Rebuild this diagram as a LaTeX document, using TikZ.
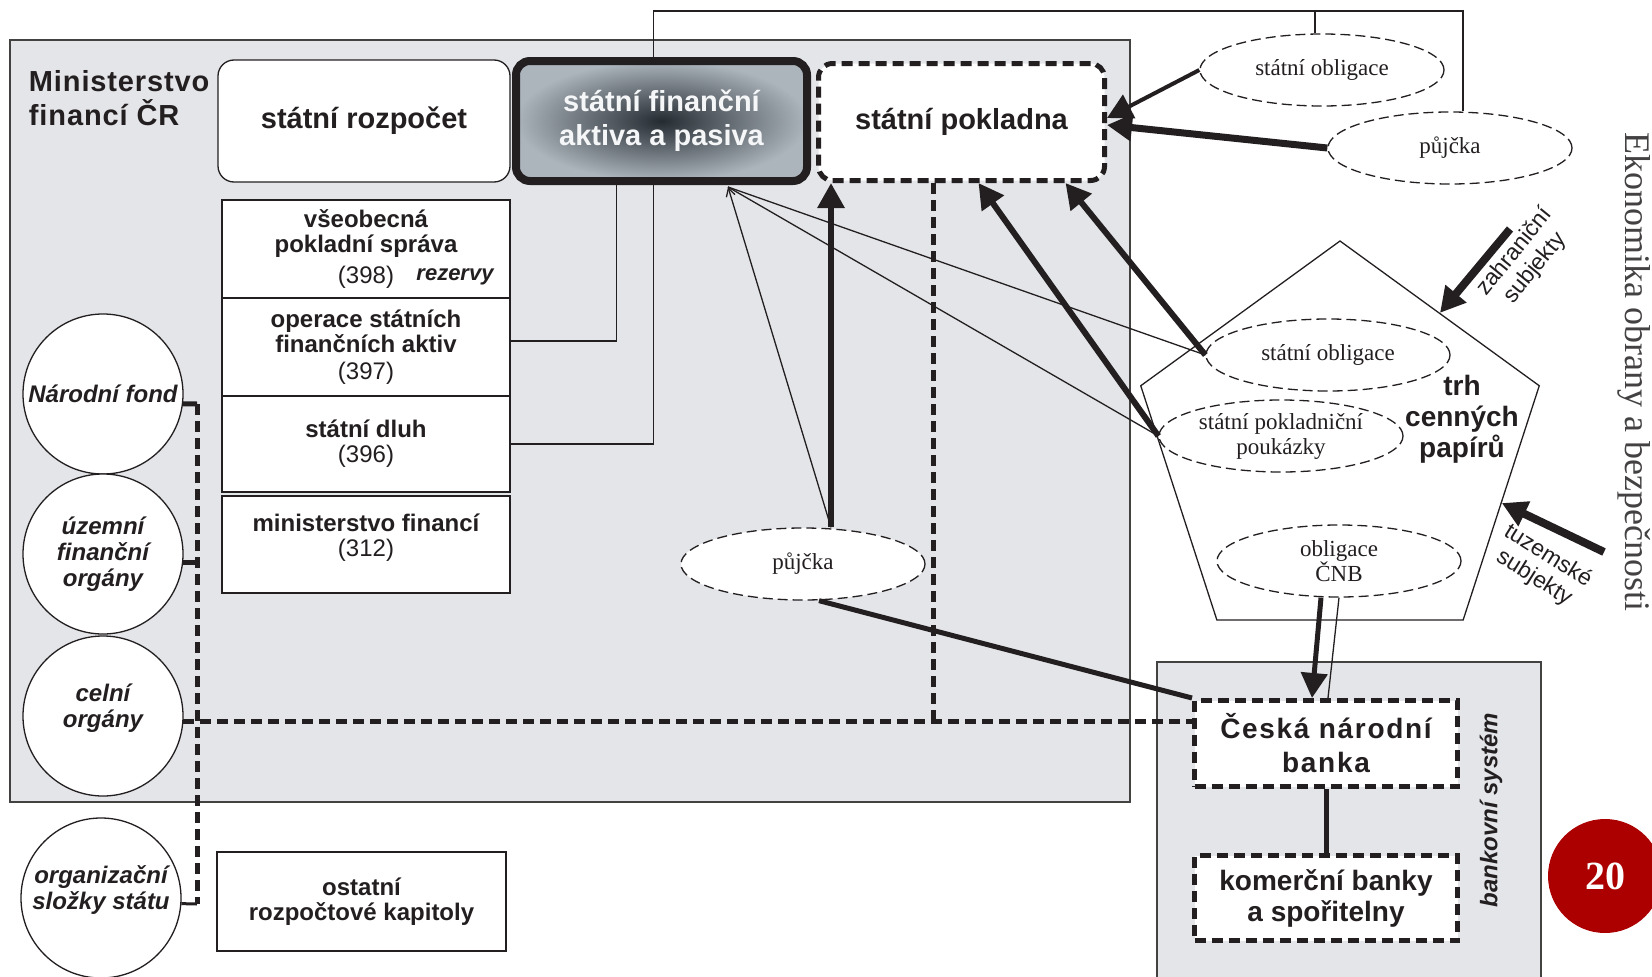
\documentclass[tikz,border=0pt]{standalone}
\usepackage{fontspec}
\setmainfont{Liberation Serif}
\setsansfont{Liberation Sans}
\newfontfamily\trackedsans[LetterSpace=3]{Liberation Sans}
\newfontfamily\widesans[LetterSpace=6]{Liberation Sans}
\usetikzlibrary{arrows.meta,shapes.geometric}
\definecolor{ink}{RGB}{35,31,32}
\definecolor{panel}{RGB}{228,229,233}
\definecolor{slate}{RGB}{36,43,49}
\definecolor{slatelight}{RGB}{172,180,188}
\definecolor{pagered}{RGB}{172,0,0}
\newcommand\sizeL{\fontsize{29}{33}\selectfont}
\newcommand\sizeM{\fontsize{24}{25}\selectfont}
\newcommand\sizeS{\fontsize{23}{25}\selectfont}

\begin{document}
\begin{tikzpicture} [
    x=1pt, y=-1pt, line width=1.3pt, color=ink,
    every node/.append style={align=center},
    panel background/.style={fill=panel, draw=ink!85, line width=1.5pt},
    round box/.style={draw, fill=white, rounded corners=16pt, inner sep=0pt,
      minimum width=292pt, minimum height=122pt, font=\sffamily\bfseries\sizeL},
    plain box/.style={draw, fill=white, inner sep=0pt, minimum width=288pt,
      font=\sffamily\bfseries\sizeM},
    dash box/.style={draw, fill=white, line width=5pt, dash pattern=on 11pt off 6pt,
      inner sep=0pt, minimum width=263pt},
    agency/.style={circle, draw, fill=white, minimum size=160pt, inner sep=0pt,
      font=\sffamily\bfseries\itshape\fontsize{24}{26}\selectfont},
    bubble/.style={ellipse, draw, fill=white, dash pattern=on 10pt off 5pt,
      minimum width=244pt, minimum height=72pt, inner sep=0pt, font=\rmfamily\sizeS},
    flow/.style={line width=6pt, -{Triangle[length=25pt,width=26pt]}},
    thin link/.style={line width=1.3pt},
    tie/.style={line width=5pt},
    bus/.style={line width=5pt, dash pattern=on 11pt off 6pt}
  ]

  \useasboundingbox (0,0) rectangle (1652,977);
  \clip (0,0) rectangle (1652,977);

  \path [panel background] (10,40) rectangle (1130,802);
  \path [panel background] (1157,662) rectangle (1541,990);

  \node [anchor=west, align=left, font=\trackedsans\bfseries\fontsize{29}{34}\selectfont]
    (ministry) at (25,98) {Ministerstvo\\financí ČR};
  \node [round box] (budget) at (364,121) {státní rozpočet};
  \node [draw=ink, line width=8pt, rounded corners=14pt, inner color=slate, outer color=slatelight,
    minimum width=291pt, minimum height=120pt, inner sep=0pt, text=white!88!slatelight,
    font=\sffamily\bfseries\fontsize{29}{34}\selectfont]
    (assets) at (661.5,121) {státní finanční\\aktiva a pasiva};
  \node [dash box, rounded corners=14pt, minimum width=286pt, minimum height=117pt,
    font=\sffamily\bfseries\sizeL] (treasury) at (961.5,122) {státní pokladna};

  % kapitoly
  \node [plain box, minimum height=98pt] (general) at (366,249)
    {všeobecná\\pokladní správa\\[6pt]{\mdseries(398)}};
  \node [font=\sffamily\bfseries\itshape\fontsize{22}{24}\selectfont] (reserves) at (455,277) {rezervy};
  \node [plain box, minimum height=98pt] (ops) at (366,347)
    {operace státních\\finančních aktiv\\[2pt]{\mdseries(397)}};
  \node [plain box, minimum height=96pt] (debt) at (366,444) {státní dluh\\{\mdseries(396)}};
  \node [plain box, minimum height=97pt] (minfin) at (366,544.5)
    {ministerstvo financí\\{\mdseries(312)}\\[-6pt]};
  \node [plain box, minimum width=289pt, minimum height=99pt] (others) at (361.5,901.5)
    {ostatní\\rozpočtové kapitoly};

  \node [agency] (fund) at (103,394) {Národní fond};
  \node [agency] (regional) at (103,554) {územní\\finanční\\orgány};
  \node [agency] (customs) at (103,716) {celní\\orgány\\[-6pt]};
  \node [agency] (units) at (101,898) {organizační\\složky státu\\[-6pt]};

  \node [dash box, minimum height=86pt, font=\widesans\bfseries\fontsize{28}{34}\selectfont]
    (cnb) at (1326,743.5) {Česká národní\\banka};
  \node [dash box, minimum height=85pt, font=\sffamily\bfseries\fontsize{28}{31}\selectfont]
    (banks) at (1326,898) {komerční banky\\a spořitelny};
  \node [rotate=90, font=\sffamily\bfseries\itshape\sizeM] (banking) at (1491,810) {bankovní systém};

  \node [bubble] (bondtop) at (1322,70) {státní obligace};
  \node [bubble] (loantop) at (1450,148) {půjčka};
  \node [bubble] (loan) at (803,564) {půjčka};

  \node [regular polygon, regular polygon sides=5, draw, minimum size=419pt, inner sep=0pt]
    (market) at (1340,450.5) {};
  \node [bubble, fill=none] (bond) at (1328,355) {státní obligace};
  \node [bubble, fill=none] (bills) at (1281,436) {státní pokladniční\\poukázky};
  \node [bubble, fill=none] (cnbbond) at (1339,561) {obligace\\ČNB};
  \node [font=\sffamily\bfseries\fontsize{28}{31}\selectfont] (markettitle) at (1462,419)
    {trh\\cenných\\papírů};

  \node [rotate=51, font=\sffamily\fontsize{23}{26}\selectfont] (foreign) at (1525,260)
    {zahraniční\\subjekty};
  \node [rotate=-32, font=\sffamily\fontsize{23}{26}\selectfont] (domestic) at (1541,567)
    {tuzemské\\subjekty};

  \node [circle, fill=pagered, minimum size=114pt, inner sep=0pt, text=white,
    font=\rmfamily\bfseries\fontsize{40}{40}\selectfont] (page) at (1605,876) {20};
  \node [rotate=-90, text=ink!85, font=\rmfamily\fontsize{36}{40}\selectfont]
    (series) at (1634,372) {Ekonomika obrany a bezpečnosti};

  \coordinate (apex) at (728,187);
  \coordinate (loan up) at ([xshift=28pt]loan.north);
  \coordinate (drop) at ([xshift=-28pt]treasury.south);
  \coordinate (bus top) at (197,404);
  \coordinate (bus bottom) at (197,904);
  \coordinate (foreign tail) at (1510,229);
  \coordinate (domestic tail) at (1604,552);

  \draw [thin link] ([yshift=6pt]ops.east) -| ([xshift=-45pt]assets.south);
  \draw [thin link] (debt.east) -| ([xshift=-8pt]assets.south);
  \draw [thin link] ([xshift=-8pt]assets.north) -- ++(0,-46) -| ([xshift=13pt]loantop.north);
  \draw [thin link] ([xshift=-7pt]bondtop.north) -- ++(0,-22);
  \draw [thin link, {Straight Barb[length=8pt,width=9pt]}-] (apex) -- (loan up);
  \draw [thin link] (apex) -- (bond.west);
  \draw [thin link] (apex) -- (bills.west);
  \draw [thin link] (cnbbond.south) -- ([xshift=2pt]cnb.north);

  \draw [bus] (bus top) -- (bus bottom);
  \draw [line width=5pt] (fund.-7) -- (bus top);
  \draw [line width=5pt] (regional.-6) -- (regional.-6 -| bus top);
  \draw [line width=3pt] (units.-4) -- (bus bottom);
  \draw [bus] (customs.-4) -- (customs.-4 -| cnb.west);
  \draw [bus] (drop) -- (drop |- customs.-4);

  \draw [tie] ([xshift=16pt]loan.south) -- (cnb.north west);
  \draw [tie] (cnb.south) -- (banks.north);

  \draw [flow] (loan up) -- (loan up |- treasury.south);
  \draw [flow] (bond.west) -- ([xshift=104pt]treasury.south);
  \draw [flow] (bills.west) -- ([xshift=17pt]treasury.south);
  \draw [flow, line width=4pt] (bondtop.west) -- ([yshift=4pt]treasury.east);
  \draw [flow, line width=7pt] (loantop.west) -- ([yshift=-3pt]treasury.east);
  \draw [flow, line width=5pt] ([xshift=-18pt]cnbbond.south) -- ([xshift=-14pt]cnb.north);
  \draw [flow, line width=8pt] (foreign tail) -- (market.side 5);
  \draw [flow, line width=8pt] (domestic tail) -- (market.side 4);
\end{tikzpicture}
\end{document}
